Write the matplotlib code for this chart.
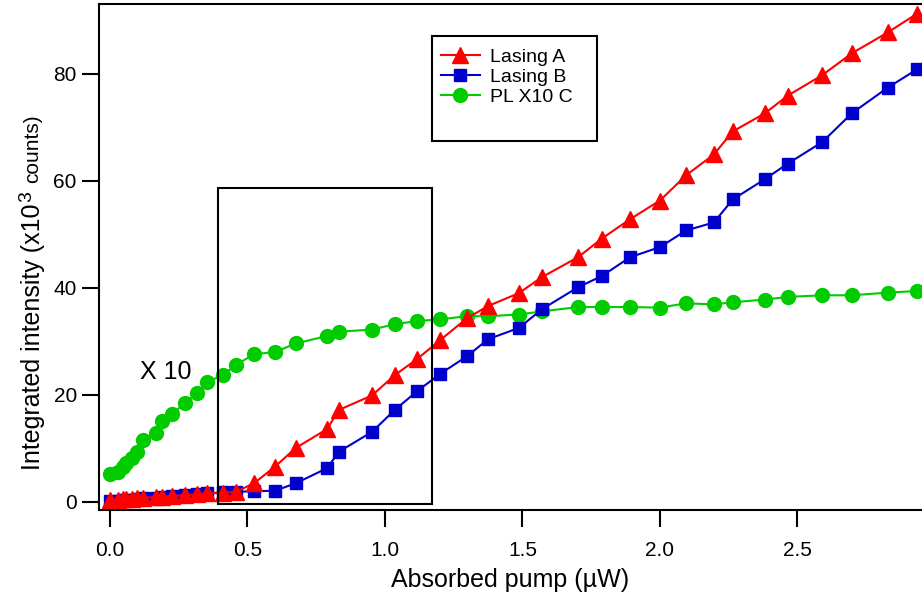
import matplotlib
matplotlib.use('Agg')
import matplotlib.pyplot as plt
from matplotlib.patches import Rectangle

plt.rcParams['font.family'] = ['Liberation Sans', 'DejaVu Sans']

# pump values shared by all three series (uW)
pump = [0.0, 0.03, 0.047, 0.058, 0.08, 0.098, 0.12, 0.167, 0.189, 0.225,
        0.273, 0.316, 0.353, 0.411, 0.458, 0.524, 0.6, 0.676, 0.789, 0.833,
        0.953, 1.036, 1.117, 1.2, 1.298, 1.375, 1.487, 1.571, 1.702, 1.789,
        1.891, 2.0, 2.095, 2.196, 2.265, 2.382, 2.465, 2.59, 2.698, 2.829, 2.935]

lasing_a = [0.3, 0.4, 0.5, 0.55, 0.6, 0.7, 0.8, 0.9, 1.0, 1.1,
            1.3, 1.4, 1.6, 1.7, 1.9, 3.5, 6.6, 10.1, 13.6, 17.2,
            19.9, 23.7, 26.7, 30.2, 34.3, 36.6, 39.0, 42.0, 45.7, 49.2,
            52.8, 56.3, 61.0, 64.9, 69.2, 72.6, 75.9, 79.7, 83.8, 87.7, 91.2]

lasing_b = [0.1, 0.2, 0.3, 0.35, 0.45, 0.55, 0.7, 0.8, 0.95, 1.1,
            1.3, 1.45, 1.6, 1.8, 1.9, 2.0, 2.1, 3.5, 6.3, 9.4,
            13.1, 17.2, 20.7, 23.9, 27.2, 30.4, 32.5, 36.0, 40.1, 42.2,
            45.7, 47.6, 50.7, 52.2, 56.5, 60.3, 63.2, 67.2, 72.6, 77.4, 80.8]

pl_x10 = [5.2, 5.6, 6.5, 7.2, 8.2, 9.3, 11.5, 12.9, 15.1, 16.4,
          18.5, 20.4, 22.4, 23.7, 25.6, 27.6, 28.0, 29.6, 31.0, 31.8,
          32.2, 33.2, 33.8, 34.1, 34.7, 34.7, 35.0, 35.6, 36.4, 36.4,
          36.4, 36.3, 37.1, 36.9, 37.3, 37.8, 38.3, 38.6, 38.6, 39.1, 39.4]

W, H = 922, 601
fig = plt.figure(figsize=(W / 100, H / 100), dpi=100)
ax = fig.add_axes([99 / W, (H - 510) / H, 823 / W, 506 / H])

ax.plot(pump, lasing_a, color='#FF0000', marker='^', markersize=11, lw=1.5,
        label='Lasing A', zorder=3)
ax.plot(pump, lasing_b, color='#0000CC', marker='s', markersize=9, lw=1.5,
        label='Lasing B', zorder=2)
ax.plot(pump, pl_x10, color='#00CC00', marker='o', markersize=10, lw=1.5,
        label='PL X10 C', zorder=1)

# threshold box
ax.add_patch(Rectangle((0.393, -0.4), 0.778, 59.0, fill=False,
                       edgecolor='black', lw=1.5, zorder=4))
ax.text(0.11, 24.3, 'X 10', fontsize=18, va='center', ha='left')

ax.set_xlim(-0.04, 2.953)
ax.set_ylim(-1.5, 93.0)
ax.set_xticks([0.0, 0.5, 1.0, 1.5, 2.0, 2.5])
ax.set_xticklabels(['0.0', '0.5', '1.0', '1.5', '2.0', '2.5'])
ax.set_yticks([0, 20, 40, 60, 80])
ax.tick_params(direction='out', length=12, width=1.5, labelsize=15)
ax.tick_params(axis='x', pad=10)
ax.tick_params(axis='y', pad=4)
for s in ['left', 'bottom', 'top']:
    ax.spines[s].set_linewidth(1.5)
ax.spines['right'].set_visible(False)

ax.set_xlabel('Absorbed pump (\u00b5W)', fontsize=18, labelpad=6)

# legend with a taller hand-drawn frame
leg = ax.legend(loc='upper left', bbox_to_anchor=(0.4156, 0.912), frameon=False,
                fontsize=14, handlelength=2.0, handletextpad=0.5,
                labelspacing=0.12, borderaxespad=0, borderpad=0)
ax.add_patch(Rectangle((0.4046, 0.729), 0.2005, 0.208, transform=ax.transAxes,
                       fill=False, edgecolor='black', lw=1.5, zorder=5))

# y label: main part, raised "3", smaller "counts)"
r = fig.canvas.get_renderer()
t1 = fig.text(40 / W, (H - 470) / H, 'Integrated intensity (x10',
              rotation=90, rotation_mode='anchor', ha='left', va='baseline',
              fontsize=18)
bb = t1.get_window_extent(r)
t2 = fig.text(31 / W, (bb.y1 + 1) / H, '3',
              rotation=90, rotation_mode='anchor', ha='left', va='baseline',
              fontsize=14)
bb2 = t2.get_window_extent(r)
fig.text(38 / W, (bb2.y1 + 9) / H, 'counts)',
         rotation=90, rotation_mode='anchor', ha='left', va='baseline',
         fontsize=15)

fig.savefig('out.png', dpi=100)
